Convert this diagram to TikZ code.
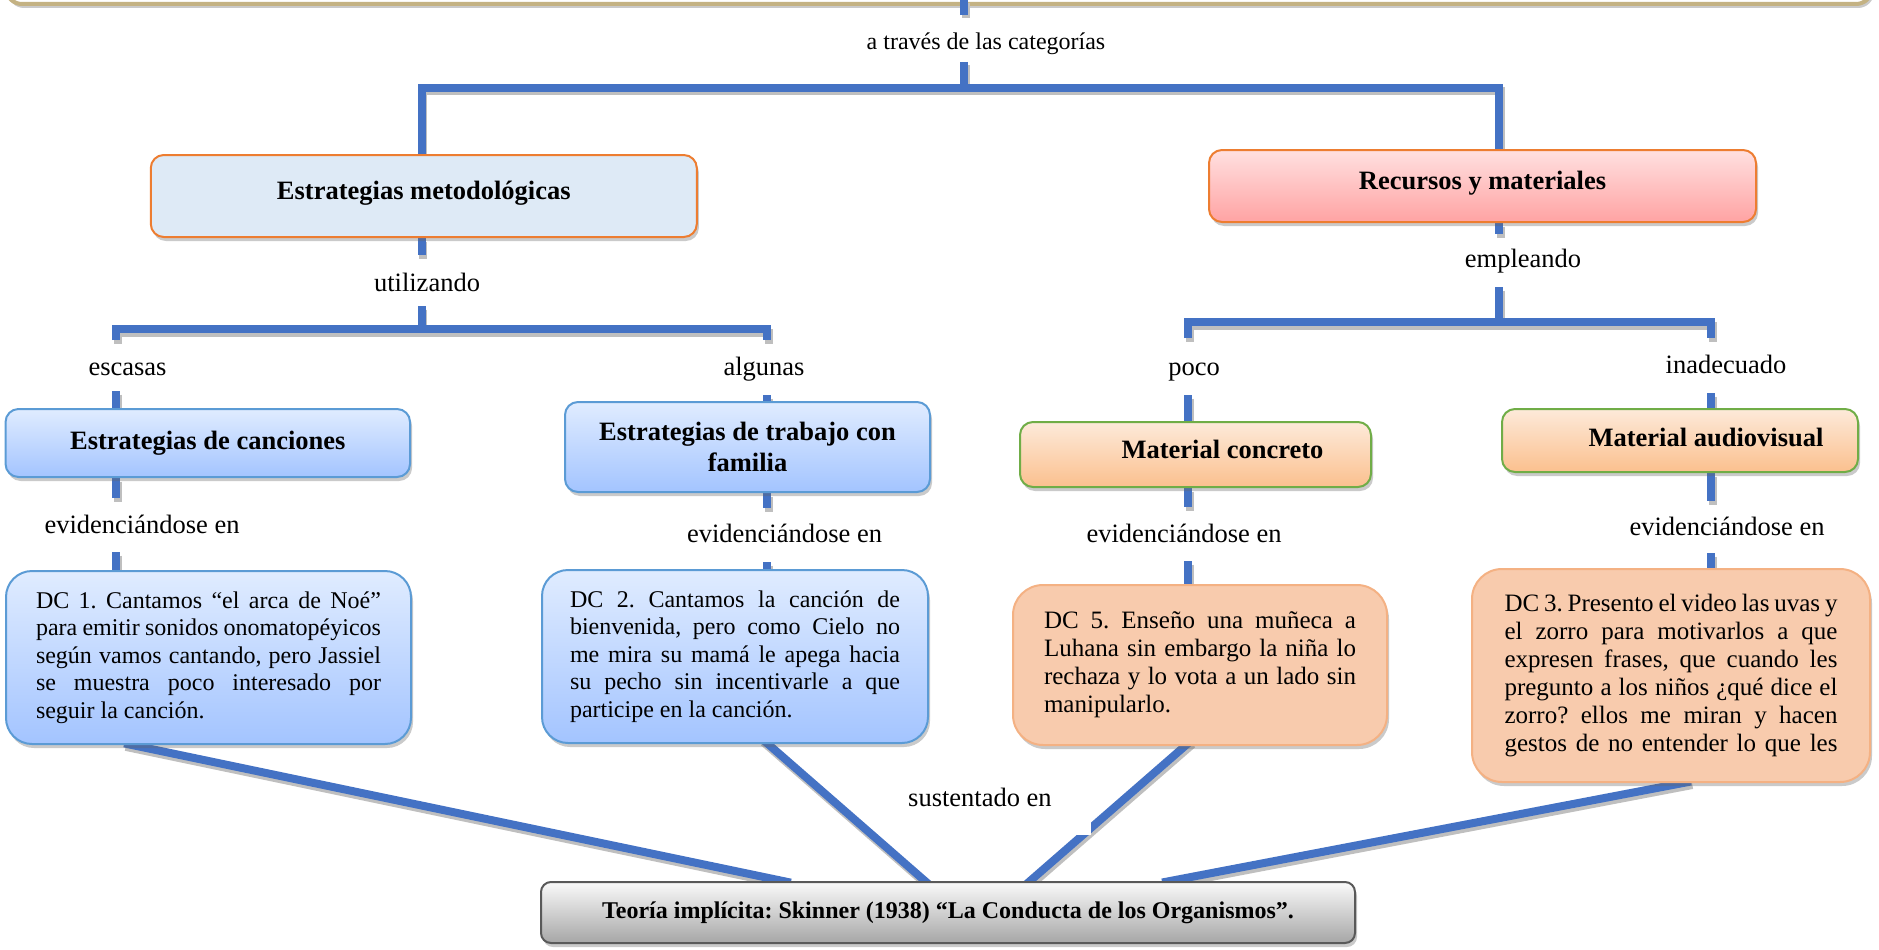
\documentclass[tikz,border=0pt]{standalone}
\usepackage{fontspec}
\setmainfont{Liberation Serif}
\usetikzlibrary{shadows,calc}
\definecolor{lineblue}{RGB}{68,114,196}
\definecolor{tanc}{RGB}{196,178,131}
\definecolor{orangeb}{RGB}{237,125,49}
\definecolor{estfill}{RGB}{222,234,246}
\definecolor{recT}{RGB}{255,224,224}
\definecolor{recB}{RGB}{255,163,163}
\definecolor{blueT}{RGB}{224,236,255}
\definecolor{blueB}{RGB}{163,196,255}
\definecolor{blueD}{RGB}{91,155,213}
\definecolor{matT}{RGB}{253,234,218}
\definecolor{matB}{RGB}{251,192,142}
\definecolor{greenb}{RGB}{112,173,71}
\definecolor{peach}{RGB}{248,203,173}
\definecolor{peachD}{RGB}{244,177,131}
\definecolor{grayT}{RGB}{250,250,250}
\definecolor{grayB}{RGB}{166,166,166}
\definecolor{grayD}{RGB}{89,89,89}
\newcommand\ftitle{\fontsize{26.5}{30.5}\selectfont\bfseries}
\newcommand\flab{\fontsize{26.5}{30.5}\selectfont}
\newcommand\fsm{\fontsize{24}{27.5}\selectfont}
\newcommand\fdca{\fontsize{24}{27.6}\selectfont}
\newcommand\fdcb{\fontsize{25}{27.9}\selectfont}
\newcommand\jl[1]{\makebox[\linewidth][s]{#1}\\}
\frenchspacing
\pgfdeclarelayer{bg}
\pgfsetlayers{bg,main}
\begin{document}
\begin{tikzpicture}[x=1pt,y=1pt,
  conn/.style={draw=lineblue, line width=8pt,
    preaction={draw=black!25, line width=8pt, transform canvas={xshift=1.5pt,yshift=-3.5pt}}},
  into/.style={shorten <=-8pt, shorten >=-8pt},
  shd/.style={drop shadow={shadow xshift=2pt, shadow yshift=-4pt, opacity=0.35, fill=black!60}},
  cbox/.style={rectangle, rounded corners=13pt, line width=2pt, inner sep=0pt, align=center, shd},
  bluebox/.style={cbox, draw=blueD, top color=blueT, bottom color=blueB, font=\ftitle},
  matbox/.style={cbox, draw=greenb, top color=matT, bottom color=matB, font=\ftitle},
  dcb/.style={cbox, rounded corners=26pt, draw=blueD, top color=blueT, bottom color=blueB, font=\fdca, align=justify},
  dco/.style={cbox, rounded corners=30pt, draw=peachD, fill=peach, font=\fdcb, align=justify},
  lab/.style={inner sep=0pt, anchor=base, font=\flab}]
\useasboundingbox (0,0) rectangle (1879,-950);

% ---------- boxes ----------
\node[draw=tanc, line width=4pt, fill=white, rounded corners=16pt, minimum width=1866pt, minimum height=64pt, shd] (top) at (939,28) {};

\node[cbox, draw=orangeb, fill=estfill, minimum width=546pt, minimum height=82pt, text height=18pt, text depth=12pt, font=\ftitle] (estmet) at (423.8,-196) {Estrategias metodológicas};
\node[cbox, draw=orangeb, top color=recT, bottom color=recB, minimum width=547pt, minimum height=72pt, text height=18pt, text depth=12pt, font=\ftitle] (recursos) at (1482.5,-186) {Recursos y materiales};

\node[bluebox, minimum width=404.5pt, minimum height=68pt] (canciones) at (207.8,-443) {Estrategias de canciones};
\node[bluebox, minimum width=365pt, minimum height=90pt] (familia) at (747.5,-447) {Estrategias de trabajo con\\familia};
\node[matbox, minimum width=351pt, minimum height=65pt, text height=18pt, text depth=10pt] (matconc) at (1195.5,-454.5) {\hspace*{54pt}Material concreto};
\node[matbox, minimum width=356pt, minimum height=63pt, text height=18pt, text depth=6pt] (mataud) at (1680,-440.5) {\hspace*{52pt}Material audiovisual};

\node[dcb, minimum width=405pt, minimum height=173pt, text width=345pt] (dc1) at (208.5,-657.5)
  {\jl{DC 1. Cantamos “el arca de Noé”}\jl{para emitir sonidos onomatopéyicos}\jl{según vamos cantando, pero Jassiel}\jl{se muestra poco interesado por}seguir la canción.};
\node[dcb, minimum width=386pt, minimum height=173pt, text width=330pt] (dc2) at (735,-656.5)
  {\jl{DC 2. Cantamos la canción de}\jl{bienvenida, pero como Cielo no}\jl{me mira su mamá le apega hacia}\jl{su pecho sin incentivarle a que}participe en la canción.};
\node[dco, minimum width=374pt, minimum height=160pt, text width=312pt] (dc5) at (1200,-665)
  {\jl{DC 5. Enseño una muñeca a}\jl{Luhana sin embargo la niña lo}\jl{rechaza y lo vota a un lado sin}manipularlo.};
\node[dco, minimum width=398pt, minimum height=213pt, text width=333pt] (dc3) at (1671,-675.5)
  {\jl{DC 3. Presento el video las uvas y}\jl{el zorro para motivarlos a que}\jl{expresen frases, que cuando les}\jl{pregunto a los niños ¿qué dice el}\jl{zorro? ellos me miran y hacen}\makebox[\linewidth][s]{gestos de no entender lo que les}};

\node[cbox, rounded corners=10pt, draw=grayD, top color=grayT, bottom color=grayB, minimum width=814pt, minimum height=61pt, font={\fsm\bfseries}] (teoria) at (948,-912.5) {Teoría implícita: Skinner (1938) “La Conducta de los Organismos”.};

% ---------- labels ----------
\node[lab, font=\fsm] (atraves) at (986,-49) {a través de las categorías};
\node[lab] (utilizando) at (427,-291) {utilizando};
\node[lab] (escasas) at (127.5,-375) {escasas};
\node[lab] (algunas) at (764,-375) {algunas};
\node[lab] (empleando) at (1523,-267) {empleando};
\node[lab] (poco) at (1194,-375) {poco};
\node[lab] (inadecuado) at (1726,-373) {inadecuado};
\node[lab] (ev1) at (142,-533) {evidenciándose en};
\node[lab] (ev2) at (784.5,-542) {evidenciándose en};
\node[lab] (ev3) at (1184,-542) {evidenciándose en};
\node[lab] (ev4) at (1727,-535) {evidenciándose en};
\node[font=\flab, fill=white, inner sep=0pt, anchor=base west, text depth=29pt] (sust) at (908,-806) {\makebox[183pt][l]{sustentado en}};

% ---------- coordinates ----------
\coordinate (t1) at (964,-15);
\coordinate (t2) at (964,-62);
\coordinate (b1L) at (421.5,-87.5);
\coordinate (b1R) at (1499,-87.5);
\coordinate (u1) at (421.5,-255);
\coordinate (u2) at (421.5,-306);
\coordinate (b2L) at (116,-329);
\coordinate (b2R) at (767,-329);
\coordinate (e1) at (116,-340);
\coordinate (a1) at (767,-340);
\coordinate (e2) at (116,-391);
\coordinate (a2) at (767,-395);
\coordinate (e3) at (116,-498);
\coordinate (e4) at (116,-552);
\coordinate (a3) at (767,-508);
\coordinate (a4) at (767,-562);
\coordinate (r1) at (1499,-234);
\coordinate (r2) at (1499,-287);
\coordinate (b3L) at (1188,-322);
\coordinate (b3R) at (1711,-322);
\coordinate (p1) at (1188,-338);
\coordinate (i1) at (1711,-338);
\coordinate (p2) at (1188,-395);
\coordinate (i2) at (1711,-393);
\coordinate (p3) at (1188,-507);
\coordinate (p4) at (1188,-561);
\coordinate (i3) at (1711,-501);
\coordinate (i4) at (1711,-553);

\draw[conn, shorten <=-6pt] (top.south -| t1) -- (t1);

\begin{pgfonlayer}{bg}
\draw[conn] (t2) -- (t2 |- b1L);
\draw[conn] (estmet.north -| b1L) -- (b1L) -- (b1R) -- (recursos.north -| b1R);
% left
\draw[conn] (estmet.south -| u1) -- (u1);
\draw[conn] (u2) -- (u2 |- b2L);
\draw[conn] (e1) -- (b2L) -- (b2R) -- (a1);
\draw[conn] (e2) -- (canciones.north -| e2);
\draw[conn] (a2) -- (familia.north -| a2);
\draw[conn] (canciones.south -| e3) -- (e3);
\draw[conn] (e4) -- (dc1.north -| e4);
\draw[conn] (familia.south -| a3) -- (a3);
\draw[conn] (a4) -- (dc2.north -| a4);
% right
\draw[conn] (recursos.south -| r1) -- (r1);
\draw[conn] (r2) -- (r2 |- b3L);
\draw[conn] (p1) -- (b3L) -- (b3R) -- (i1);
\draw[conn] (p2) -- (matconc.north -| p2);
\draw[conn] (i2) -- (mataud.north -| i2);
\draw[conn] (matconc.south -| p3) -- (p3);
\draw[conn] (p4) -- (dc5.north -| p4);
\draw[conn] (mataud.south -| i3) -- (i3);
\draw[conn] (i4) -- (dc3.north -| i4);
% bottom
\draw[conn, into] ($(dc1.south)+(-76.5,0)$) -- ($(teoria.north)+(-165,0)$);
\draw[conn, into] ($(dc2.south)+(33,0)$) -- ($(teoria.north)+(-23,0)$);
\draw[conn, into] ($(dc5.south)+(-15,0)$) -- ($(teoria.north)+(82,0)$);
\draw[conn, into] ($(dc3.south)+(12,0)$) -- ($(teoria.north)+(222,0)$);
\end{pgfonlayer}
\end{tikzpicture}
\end{document}
